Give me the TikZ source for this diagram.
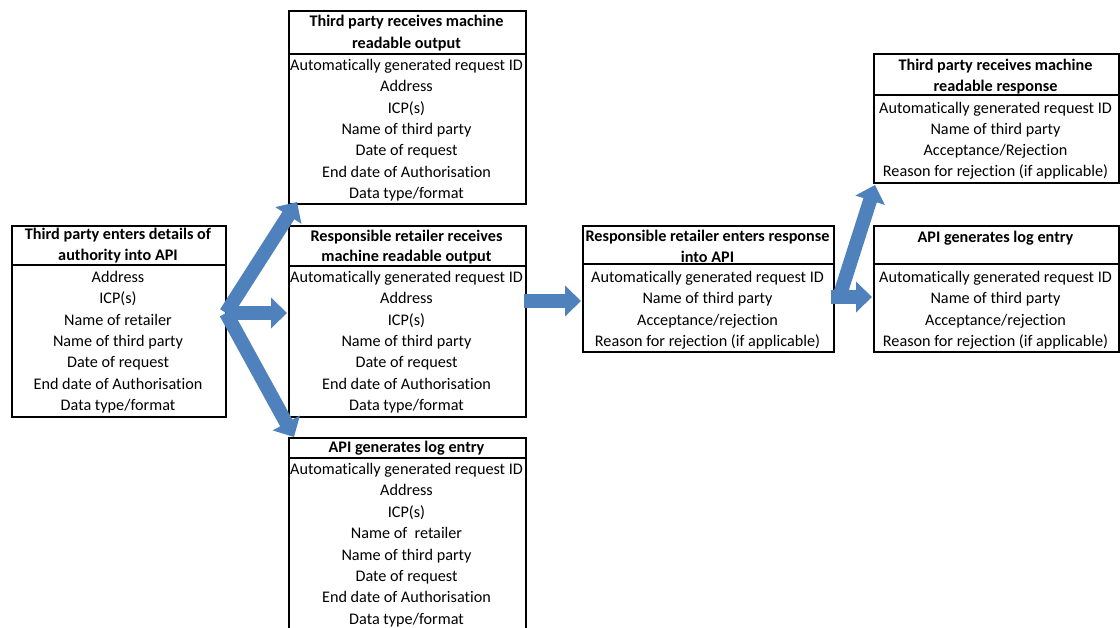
\documentclass[tikz,border=0pt]{standalone}
\usepackage{fontspec}
\setmainfont{Carlito}[Ligatures=NoCommon]
\usetikzlibrary{arrows.meta}
\definecolor{arrowblue}{HTML}{4F81BD}
\newcommand\boxrows[5]{%
  \foreach \txt [count=\i from 0] in {#5}{\node[cell] (#1\i) at (#2,#3+5.5+#4*\i) {\txt};}}
\begin{document}
\begin{tikzpicture}[x=1pt,y=-1pt,
  frame/.style={draw=black,line width=1.6pt,inner sep=0pt},
  cell/.style={font=\fontsize{16.2}{19}\selectfont,inner sep=0pt,anchor=base},
  headcell/.style={cell,font=\fontsize{16.2}{19}\selectfont\bfseries},
  blockarrow/.style={draw=arrowblue,line width=14pt,-{Triangle[width=30pt,length=16pt]}}]
\clip (0,0) rectangle (1120,628);
\fill[white] (0,0) rectangle (1120,628);
% left box
\node[frame,minimum width=214pt,minimum height=191pt,anchor=north west] (L) at (11,225) {};
\draw[frame] (11,265) -- (225,265);
\node[headcell] (Lh1) at (118,234+5.5) {Third party enters details of};
\node[headcell] (Lh2) at (118,255+5.5) {authority into API};
\boxrows{Lr}{118}{277}{21.33}{Address,ICP(s),Name of retailer,Name of third party,Date of request,End date of Authorisation,Data type/format}
% top middle box
\node[frame,minimum width=237pt,minimum height=193.5pt,anchor=north west] (T) at (288,10) {};
\draw[frame] (288,54) -- (525,54);
\node[headcell] (Th1) at (406.5,21+5.5) {Third party receives machine};
\node[headcell] (Th2) at (406.5,43+5.5) {readable output};
\boxrows{Tr}{406.5}{65}{21.33}{Automatically generated request ID,Address,ICP(s),Name of third party,Date of request,End date of Authorisation,Data type/format}
% middle box
\node[frame,minimum width=237pt,minimum height=191pt,anchor=north west] (M) at (288,225) {};
\draw[frame] (288,266) -- (525,266);
\node[headcell] (Mh1) at (406.5,236+5.5) {Responsible retailer receives};
\node[headcell] (Mh2) at (406.5,256+5.5) {machine readable output};
\boxrows{Mr}{406.5}{277}{21.33}{Automatically generated request ID,Address,ICP(s),Name of third party,Date of request,End date of Authorisation,Data type/format}
% bottom box
\node[frame,minimum width=237pt,minimum height=200pt,anchor=north west] (B) at (288,437) {};
\draw[frame] (288,458) -- (525,458);
\node[headcell] (Bh1) at (406.5,447+5.5) {API generates log entry};
\boxrows{Br}{406.5}{469}{21.4}{Automatically generated request ID,Address,ICP(s),Name of\ \ retailer,Name of third party,Date of request,End date of Authorisation,Data type/format}
% retailer response box
\node[frame,minimum width=251pt,minimum height=126pt,anchor=north west] (R) at (582,225) {};
\draw[frame] (582,264) -- (833,264);
\node[headcell] (Rh1) at (707.5,236+5.5) {Responsible retailer enters response};
\node[headcell] (Rh2) at (707.5,257+5.5) {into API};
\boxrows{Rr}{707.5}{277}{21.33}{Automatically generated request ID,Name of third party,Acceptance/rejection,Reason for rejection (if applicable)}
% third party response box
\node[frame,minimum width=245pt,minimum height=129pt,anchor=north west] (P) at (873,53) {};
\draw[frame] (873,95) -- (1118,95);
\node[headcell] (Ph1) at (995.5,65+5.5) {Third party receives machine};
\node[headcell] (Ph2) at (995.5,86+5.5) {readable response};
\boxrows{Pr}{995.5}{108}{21.1}{Automatically generated request ID,Name of third party,Acceptance/Rejection,Reason for rejection (if applicable)}
% log entry box right
\node[frame,minimum width=245pt,minimum height=126pt,anchor=north west] (G) at (873,225) {};
\draw[frame] (873,264) -- (1118,264);
\node[headcell] (Gh1) at (995.5,237+5.5) {API generates log entry};
\boxrows{Gr}{995.5}{277}{21.33}{Automatically generated request ID,Name of third party,Acceptance/rejection,Reason for rejection (if applicable)}
% arrows
\coordinate (Lout) at (226,313);
\coordinate (Ttip) at (297,202);
\coordinate (Mtip) at (287,313);
\coordinate (Btip) at (294,437);
\coordinate (Mout) at (524,301);
\coordinate (Rtip) at (581,301);
\coordinate (Rout) at (831,297);
\coordinate (Gtip) at (872,297);
\coordinate (Rup) at (838,301);
\coordinate (Ptip) at (875,185);
\draw[blockarrow] (Lout) -- (Ttip);
\draw[blockarrow] (Lout) -- (Btip);
\draw[blockarrow] (Lout) -- (Mtip);
\draw[blockarrow] (Mout) -- (Rtip);
\draw[blockarrow] (Rout) -- (Gtip);
\draw[blockarrow] (Rup) -- (Ptip);
\end{tikzpicture}
\end{document}
